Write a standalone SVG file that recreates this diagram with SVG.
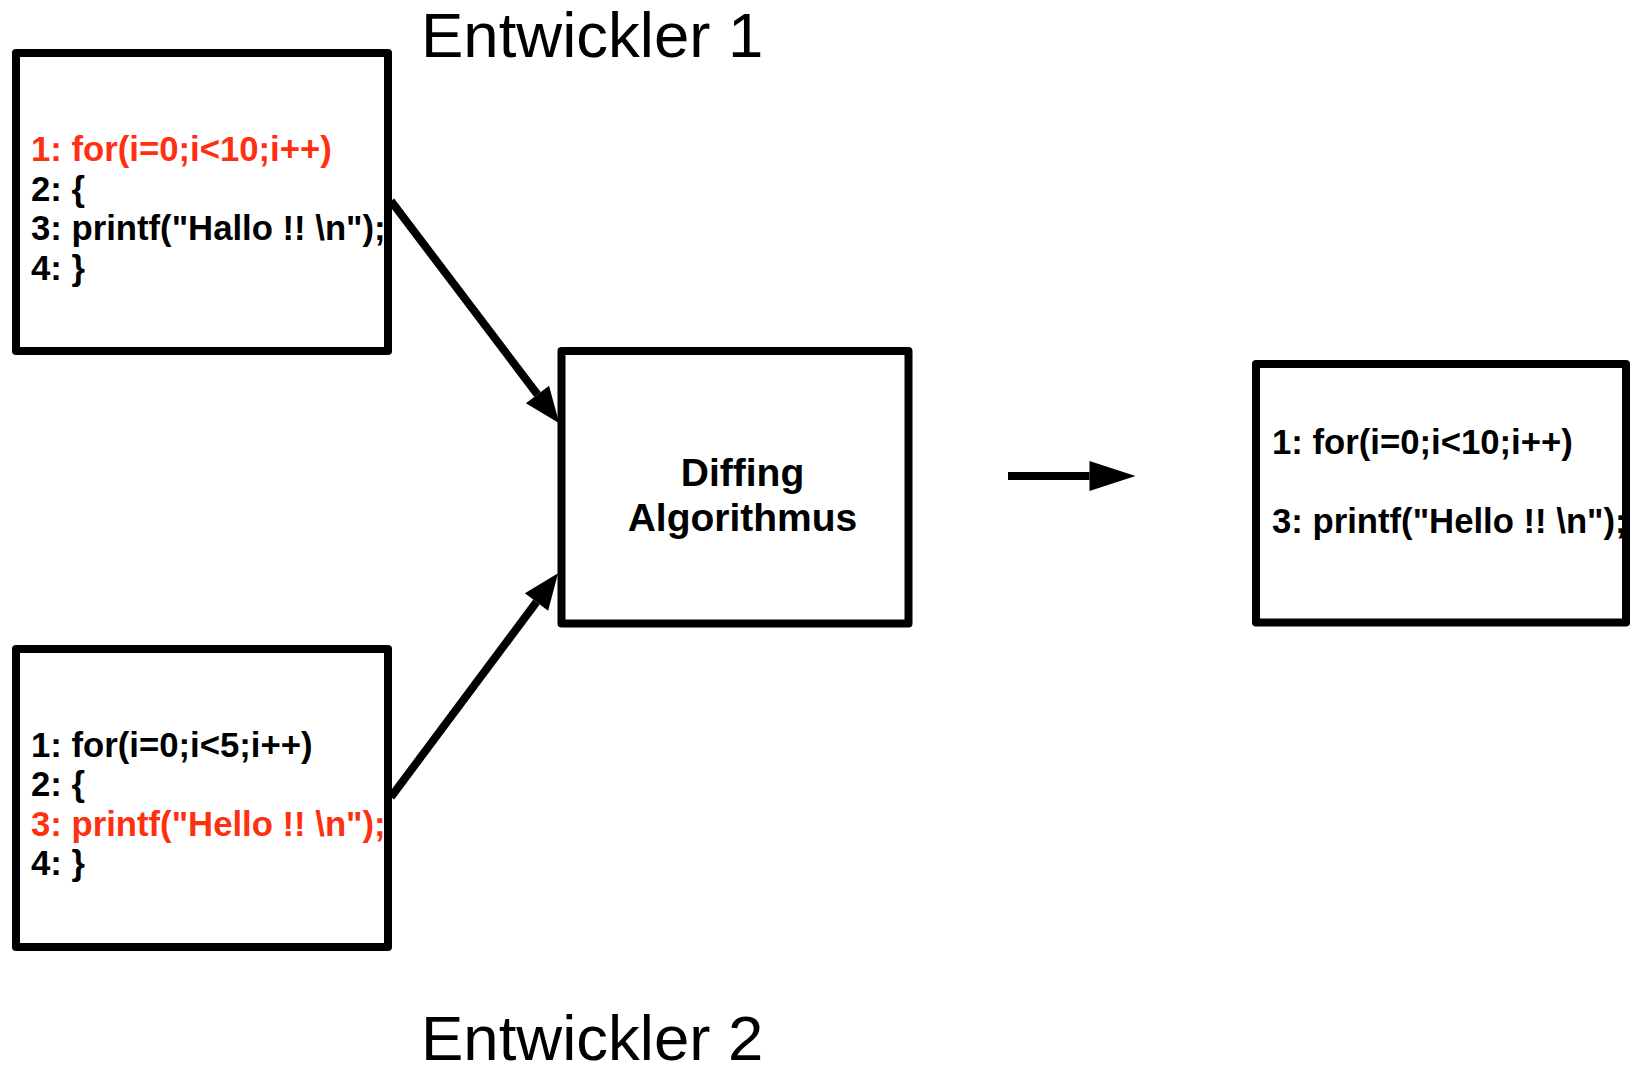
<svg xmlns="http://www.w3.org/2000/svg" width="1630" height="1065" viewBox="0 0 1630 1065">
<style>
.box{fill:#fff;stroke:#000;stroke-width:8;stroke-linejoin:round}
.code{font-family:"Liberation Sans",Arial,sans-serif;font-weight:bold;font-size:34.7px;fill:#000}
.red{fill:#ff3010}
.title{font-family:"Liberation Sans",Arial,sans-serif;font-size:63.5px;fill:#000}
.label{font-family:"Liberation Sans",Arial,sans-serif;font-weight:bold;font-size:39px;fill:#000;text-anchor:middle}
.edge{stroke:#000;stroke-width:8;fill:none}
</style>
<defs>
<marker id="headD" markerUnits="userSpaceOnUse" markerWidth="40" markerHeight="32" refX="0" refY="14.5" orient="auto" overflow="visible">
<path d="M0,0 L36,14.5 L0,29 Z" fill="#000"/>
</marker>
<marker id="headH" markerUnits="userSpaceOnUse" markerWidth="50" markerHeight="32" refX="0" refY="15" orient="auto" overflow="visible">
<path d="M0,0 L46,15 L0,30 Z" fill="#000"/>
</marker>
</defs>
<rect width="1630" height="1065" fill="#fff"/>
<text class="title" x="421" y="57">Entwickler 1</text>
<text class="title" x="421" y="1060">Entwickler 2</text>
<g id="connectors">
<line class="edge" x1="391" y1="201" x2="537.5" y2="394.5" marker-end="url(#headD)"/>
<line class="edge" x1="391" y1="797" x2="536.5" y2="602" marker-end="url(#headD)"/>
<line class="edge" x1="1008" y1="476" x2="1089.5" y2="476" marker-end="url(#headH)"/>
</g>
<g id="dev1">
<rect class="box" x="16" y="53" width="372" height="298"/>
<text class="code red" x="31" y="161">1: for(i=0;i&lt;10;i++)</text>
<text class="code" x="31" y="200.5">2: {</text>
<text class="code" x="31" y="240">3: printf("Hallo !! \n");</text>
<text class="code" x="31" y="279.5">4: }</text>
</g>
<g id="dev2">
<rect class="box" x="16" y="649" width="372" height="298"/>
<text class="code" x="31" y="757">1: for(i=0;i&lt;5;i++)</text>
<text class="code" x="31" y="796">2: {</text>
<text class="code red" x="31" y="835.5">3: printf("Hello !! \n");</text>
<text class="code" x="31" y="875">4: }</text>
</g>
<g id="diffing">
<rect class="box" x="561.5" y="351" width="347" height="272.5"/>
<text class="label" x="742.5" y="486">Diffing</text>
<text class="label" x="742.5" y="531">Algorithmus</text>
</g>
<g id="result">
<rect class="box" x="1256" y="364" width="370" height="258.5"/>
<text class="code" x="1272" y="454">1: for(i=0;i&lt;10;i++)</text>
<text class="code" x="1272" y="532.5">3: printf("Hello !! \n");</text>
</g>
</svg>
